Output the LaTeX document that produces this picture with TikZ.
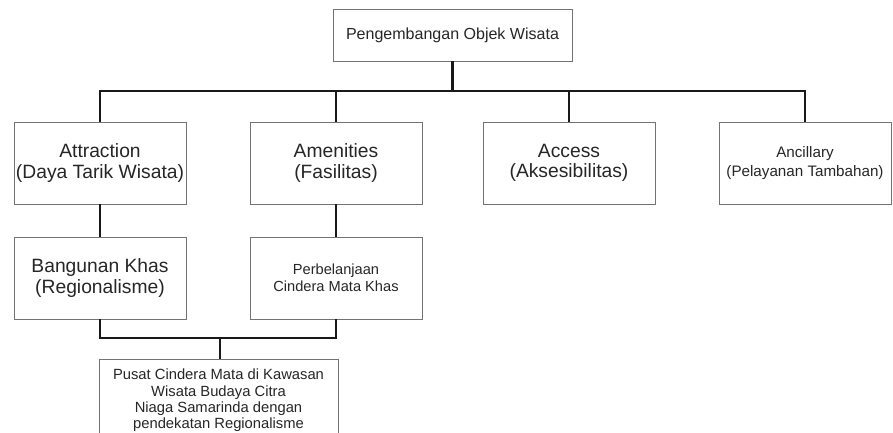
\documentclass[tikz,border=0pt]{standalone}
\usepackage{fontspec}
\setmainfont{Liberation Sans}
\usetikzlibrary{positioning}

\begin{document}
\begin{tikzpicture}[
    x=0.025cm, y=-0.025cm,
    box/.style={rectangle, draw=black!55, line width=0.6pt, text=black!85, align=center, minimum width=4.3cm, minimum height=2.05cm, inner sep=0pt},
    bigtext/.style={font=\fontsize{13.7}{14.4}\selectfont},
    smalltext/.style={font=\fontsize{10.5}{11.6}\selectfont},
    link/.style={draw=black!90, line width=2pt}
]
% Frame
\clip (0,0) rectangle (893,433);

% Top box
\node[box, minimum width=5.975cm, minimum height=1.3cm, font=\fontsize{11.4}{13}\selectfont] (objek) at (452.5,35) {Pengembangan Objek Wisata};

% Four components
\node[box, bigtext] (attr) at (100,163) {Attraction\\(Daya Tarik Wisata)};
\node[box, bigtext] (amen) at (336,163) {Amenities\\(Fasilitas)};
\node[box, bigtext] (acc) at (569,163) {Access\\(Aksesibilitas)};
\node[box, font=\fontsize{10.8}{13}\selectfont] (anc) at (805,163) {Ancillary\\(Pelayanan Tambahan)};

% Second row
\node[box, bigtext] (bang) at (100,278) {Bangunan Khas\\(Regionalisme)};
\node[box, font=\fontsize{10.4}{11.9}\selectfont] (perb) at (336,278) {Perbelanjaan\\Cindera Mata Khas};

% Result
\node[box, smalltext, minimum width=5.975cm, anchor=north] (pusat) at (218.5,359) {Pusat Cindera Mata di Kawasan\\Wisata Budaya Citra\\Niaga Samarinda dengan\\pendekatan Regionalisme};

% Connectors
\coordinate (bus) at (452.5,91);
\coordinate (bus2) at (220,338);
\draw[link] (objek.south) -- (bus);
\draw[link] (attr.north) |- (anc.north |- bus) -- (anc.north);
\draw[link] (amen.north) -- (amen.north |- bus);
\draw[link] (acc.north) -- (acc.north |- bus);
\draw[link] (attr.south) -- (bang.north);
\draw[link] (amen.south) -- (perb.north);
\draw[link] (bang.south) |- (perb.south |- bus2) -- (perb.south);
\draw[link] (bus2) -- (bus2 |- pusat.north);
\end{tikzpicture}
\end{document}
